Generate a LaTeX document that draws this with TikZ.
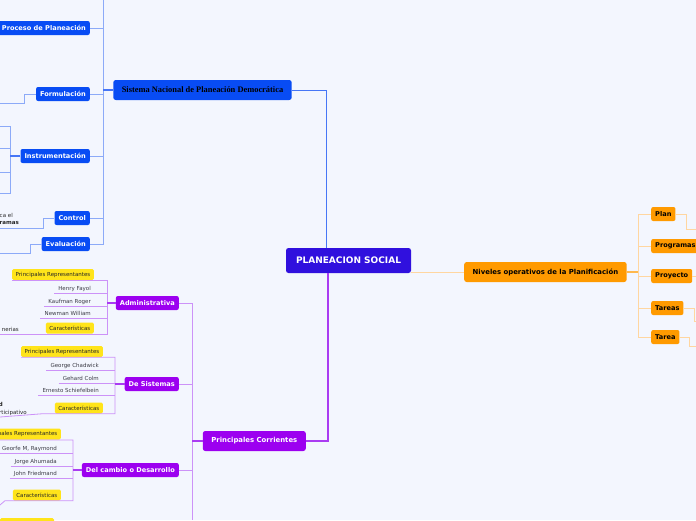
\documentclass[tikz,border=0pt]{standalone}
\usepackage{fontspec}
\setmainfont{DejaVu Sans}
\newfontfamily\serifbold{Liberation Serif}
\usepackage{tikz}

\definecolor{bgpage}{RGB}{243,246,254}
\definecolor{rootfill}{RGB}{48,16,222}
\definecolor{bluefill}{RGB}{8,76,244}
\definecolor{blueline}{RGB}{140,170,248}
\definecolor{bluestrong}{RGB}{70,118,246}
\definecolor{orangefill}{RGB}{255,154,0}
\definecolor{orangeline}{RGB}{255,214,160}
\definecolor{purplefill}{RGB}{156,0,240}
\definecolor{purpleline}{RGB}{204,146,248}
\definecolor{purplestrong}{RGB}{170,60,242}
\definecolor{yellowfill}{RGB}{255,228,26}
\definecolor{persontext}{RGB}{60,60,70}

\begin{document}
\begin{tikzpicture}[x=1pt, y=-1pt,
    root/.style={fill=rootfill, text=white, rounded corners=2.5pt, minimum height=25pt,
        inner xsep=10pt, font=\bfseries\fontsize{9}{10}\selectfont},
    topic/.style={rounded corners=2.5pt, minimum height=20pt, inner xsep=8.5pt,
        font=\bfseries\fontsize{6.9}{8}\selectfont},
    subtopic/.style={rounded corners=2pt, minimum height=14pt, inner xsep=4pt, inner ysep=0pt,
        font=\bfseries\fontsize{6.6}{8}\selectfont},
    bluesub/.style={subtopic, fill=bluefill, text=white, anchor=east},
    orangesub/.style={subtopic, fill=orangefill, text=black, anchor=west},
    purplesub/.style={subtopic, fill=purplefill, text=white, anchor=east},
    tag/.style={fill=yellowfill, rounded corners=1.5pt, minimum height=11pt, inner xsep=3.5pt,
        inner ysep=0pt, anchor=east, text=black!85, font=\fontsize{5.5}{6}\selectfont},
    person/.style={anchor=south east, inner xsep=4pt, inner ysep=1.5pt, text height=4.5pt,
        text depth=1pt, text=persontext, font=\fontsize{5.5}{6}\selectfont},
    fragment/.style={anchor=base east, inner sep=0pt, text=black!85, font=\fontsize{5.5}{6}\selectfont},
    fragmentbold/.style={fragment, font=\bfseries\fontsize{5.5}{6}\selectfont},
    bluelink/.style={blueline, line width=0.8pt},
    bluethick/.style={bluestrong, line width=1.4pt},
    orangelink/.style={orangeline, line width=0.8pt},
    orangethick/.style={orangefill!70, line width=1.4pt},
    purplelink/.style={purpleline, line width=0.8pt},
    purplethick/.style={purplestrong, line width=1.4pt}]

    \useasboundingbox (0,0) rectangle (696,520);
    \fill[bgpage] (0,0) rectangle (696,520);

    \node[root] (root) at (348.5,260.5) {PLANEACION SOCIAL};

    \node[topic, fill=bluefill, text=black, font=\serifbold\bfseries\fontsize{8.4}{10}\selectfont]
        (sistema) at (202.5,90) {Sistema Nacional de Planeación Democrática};
    \node[topic, fill=orangefill, text=black, anchor=west] (niveles) at (464,272)
        {Niveles operativos de la Planificación};
    \node[topic, fill=purplefill, text=white, anchor=east] (corrientes) at (306,441)
        {Principales Corrientes};

    \node[bluesub] (proceso) at (90,28) {Proceso de Planeación};
    \node[bluesub] (formulacion) at (90,94) {Formulación};
    \node[bluesub] (instrumentacion) at (90,156) {Instrumentación};
    \node[bluesub] (control) at (90,218) {Control};
    \node[bluesub] (evaluacion) at (90,244) {Evaluación};

    \node[orangesub] (plan) at (651,214) {Plan};
    \node[orangesub] (programas) at (651,246) {Programas};
    \node[orangesub] (proyecto) at (651,276) {Proyecto};
    \node[orangesub] (tareas) at (651,308) {Tareas};
    \node[orangesub] (tarea) at (651,337) {Tarea};

    \node[purplesub] (administrativa) at (179,303) {Administrativa};
    \node[purplesub] (sistemas) at (179,384) {De Sistemas};
    \node[purplesub] (cambio) at (179,470) {Del cambio o Desarrollo};

    \node[tag] (adminrep) at (94,274.5) {Principales Representantes};
    \node[tag] (admincar) at (94,328) {Características};
    \node[tag] (sistrep) at (103,351.5) {Principales Representantes};
    \node[tag] (sistcar) at (103,408) {Características};
    \node[tag] (cambiorep) at (61,434) {Principales Representantes};
    \node[tag] (cambiocar) at (61,495) {Características};

    \node[person] (fayol) at (95,293) {Henry Fayol};
    \node[person] (kaufman) at (95,306) {Kaufman Roger};
    \node[person] (newman) at (95,318) {Newman William};
    \node[person] (chadwick) at (103,370) {George Chadwick};
    \node[person] (colm) at (103,383) {Gehard Colm};
    \node[person] (schiefelbein) at (103,395) {Ernesto Schiefelbein};
    \node[person] (raymond) at (61,453) {Georfe M, Raymond};
    \node[person] (ahumada) at (61,466) {Jorge Ahumada};
    \node[person] (friedmand) at (61,478) {John Friedmand};

    \node[fragment] (ctrlnotea) at (13,217) {ca el};
    \node[fragmentbold] (ctrlnoteb) at (19,224) {ramas};
    \node[fragment] (adminnote) at (19,331) {nerias};
    \node[fragmentbold] (sistnotea) at (3,406) {d};
    \node[fragment] (sistnoteb) at (27,414) {rticipativo};

    \fill[yellowfill, rounded corners=1.5pt] (0,518) rectangle (54,530);

    % blue branch
    \coordinate (bspine) at (103,0);
    \draw[bluelink] (bspine) |- (evaluacion.east);
    \foreach \n in {proceso,formulacion,instrumentacion,control}
        \draw[bluelink] (\n.east) -- (\n.east -| bspine);
    \draw[bluethick] (sistema.west) -- (sistema.west -| bspine);
    \draw[bluestrong, line width=1pt] (sistema.east) -| ([xshift=41pt]root.north west);

    \coordinate (formend) at (0,103);
    \draw[bluelink] (formulacion.west) -- ++(-11,0) |- (formend);
    \coordinate (ispine) at (10,0);
    \coordinate (inst1) at (0,126);
    \coordinate (inst2) at (0,148);
    \coordinate (inst3) at (0,172);
    \coordinate (inst4) at (0,193);
    \draw[bluelink] (inst1) -| (ispine |- inst4) -- (inst4);
    \foreach \n in {inst2,inst3}
        \draw[bluelink] (\n) -- (\n -| ispine);
    \draw[bluethick] (instrumentacion.west) -- (instrumentacion.west -| ispine);
    \coordinate (ctrlend) at (0,228);
    \draw[bluelink] (control.west) -- ++(-11,0) |- (ctrlend);
    \coordinate (evalend) at (0,253);
    \draw[bluelink] (evaluacion.west) -- ++(-11,0) |- (evalend);

    % orange branch
    \coordinate (ospine) at (638,0);
    \draw[orangelink] (root.east |- niveles.west) -- (niveles.west);
    \draw[orangelink] (plan.west) -| (ospine |- tarea.west) -- (tarea.west);
    \foreach \n in {programas,proyecto,tareas}
        \draw[orangelink] (\n.west) -- (\n.west -| ospine);
    \draw[orangethick] (niveles.east) -- (niveles.east -| ospine);
    \coordinate (planend) at (696,229);
    \coordinate (proyectoend) at (696,276);
    \coordinate (tareasend) at (696,321);
    \coordinate (tareaend) at (696,346);
    \draw[orangelink] (plan.east) -- ++(11,0) |- (planend);
    \draw[orangelink] (proyecto.east) -- (proyectoend);
    \draw[orangelink] (tareas.east) -- ++(11,0) |- (tareasend);
    \draw[orangelink] (tarea.east) -- ++(10,0) |- (tareaend);

    % purple branch
    \coordinate (pspine) at (192,520);
    \draw[purplethick] (corrientes.east) -| ([xshift=42pt]root.south west);
    \draw[purplelink] (administrativa.east) -| (pspine);
    \foreach \n in {sistemas,cambio}
        \draw[purplelink] (\n.east) -- (\n.east -| pspine);
    \draw[purplethick] (corrientes.west) -- (corrientes.west -| pspine);

    \coordinate (aspine) at (107,0);
    \coordinate (admincarend) at (0,334);
    \draw[purplelink] (adminrep.south west) -| (aspine |- admincarend) -- (admincarend);
    \foreach \n in {fayol,kaufman,newman}
        \draw[purplelink] (\n.south west) -- (\n.south west -| aspine);
    \draw[purplethick] (administrativa.west) -- (administrativa.west -| aspine);

    \coordinate (sspine) at (115,0);
    \coordinate (sistcarend) at (0,417);
    \draw[purplelink] (sistrep.south west) -| (sspine |- sistcar.south) -- ++(-72,0) -- (sistcarend);
    \foreach \n in {chadwick,colm,schiefelbein}
        \draw[purplelink] (\n.south west) -- (\n.south west -| sspine);
    \draw[purplethick] (sistemas.west) -- (sistemas.west -| sspine);

    \coordinate (cspine) at (73,0);
    \coordinate (cambiorepend) at (0,440);
    \coordinate (cambiocarend) at (0,505);
    \draw[purplelink] (cambiorepend) -| (cspine |- cambiocar.south) -- ++(-68,0) -- (cambiocarend);
    \foreach \n in {raymond,ahumada,friedmand}
        \draw[purplelink] (\n.south west) -- (\n.south west -| cspine);
    \draw[purplethick] (cambio.west) -- (cambio.west -| cspine);
\end{tikzpicture}
\end{document}
